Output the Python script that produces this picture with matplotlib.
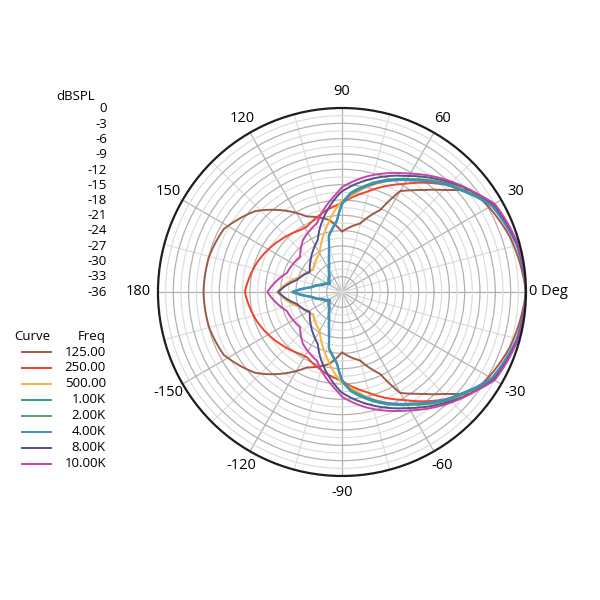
import numpy as np
import matplotlib.pyplot as plt
from matplotlib.lines import Line2D

plt.rcParams['font.family'] = ['Open Sans', 'DejaVu Sans']

# polar response, half plane (deg, dBSPL) -- mirrored for the negative side
ang_125 = [0, 18, 30, 38.6, 42, 45, 50.9, 55, 60, 65, 75, 90, 100, 115, 130, 137, 152, 165, 180]
db_125 = [0, -1.4, -2.8, -4.0, -6.2, -7.8, -10.3, -11.7, -13.2, -18.3, -22.1, -24.2, -21.7, -19.7, -15.0, -12.8, -9.8, -9.1, -8.9]

ang_250 = [0, 15, 30, 45, 60, 76, 90, 106, 118, 124, 140, 161, 180]
db_250 = [0, -0.6, -2.2, -6.5, -11.6, -15.8, -18.6, -20.3, -21.5, -21.4, -20.2, -18.4, -17.0]

ang_500 = [0, 15, 30, 40, 46, 58, 77, 85, 90, 103, 111, 120, 142.5, 160, 180]
db_500 = [0, -0.5, -2.0, -5.0, -6.4, -10.0, -15.0, -17.3, -18.2, -22.9, -25.1, -27.3, -28.9, -27.3, -23.3]

ang_1k = [0, 15, 30, 40, 46, 58, 71, 77, 85, 90, 94, 98, 103, 105.5, 109.4, 115.7, 127, 146, 160, 171.5, 180]
db_1k = [0, -0.5, -2.0, -5.0, -6.5, -10.0, -13.0, -14.5, -16.5, -18.6, -21.9, -23.2, -24.6, -26.5, -28.3, -30.1, -31.8, -32.8, -31.7, -29.7, -26.2]

ang_2k = ang_1k
db_2k = [0, -0.5, -2.1, -5.2, -6.7, -10.2, -13.2, -14.7, -16.7, -18.8, -22.0, -23.3, -24.7, -26.6, -28.4, -30.2, -31.9, -32.9, -31.8, -29.8, -26.3]

ang_4k = ang_1k
db_4k = [0, -0.6, -2.2, -5.3, -6.8, -10.3, -13.3, -14.8, -16.8, -18.9, -22.1, -23.4, -24.8, -26.8, -28.6, -30.4, -32.1, -33.2, -32.1, -30.0, -26.6]

ang_8k = [0, 15, 30, 45, 60, 77.6, 90, 93, 105, 115, 124, 135, 148, 165, 180]
db_8k = [0, -0.4, -1.7, -5.8, -9.8, -13.6, -16.3, -17.3, -21.4, -24.8, -26.0, -27.3, -28.6, -26.9, -23.5]

ang_10k = [0, 15, 30, 36, 47, 61, 78, 90, 93, 110, 127, 140, 161, 180]
db_10k = [0, -0.3, -1.5, -3.3, -6.0, -9.5, -12.9, -15.5, -16.7, -21.7, -23.3, -25.3, -24.6, -21.4]

freq_labels = ['125.00', '250.00', '500.00', '1.00K', '2.00K', '4.00K', '8.00K', '10.00K']
colors = ['#9e5b45', '#f0432a', '#f7b43a', '#22a67a', '#5e9672', '#3a8fcc', '#55508e', '#c844a8']
curves = [(ang_125, db_125), (ang_250, db_250), (ang_500, db_500), (ang_1k, db_1k),
          (ang_2k, db_2k), (ang_4k, db_4k), (ang_8k, db_8k), (ang_10k, db_10k)]

angle_ticks = [0, 30, 60, 90, 120, 150, 180, 210, 240, 270, 300, 330]
angle_labels = ['0 Deg', '30', '60', '90', '120', '150', '180', '-150', '-120', '-90', '-60', '-30']
db_ticks = [0, -3, -6, -9, -12, -15, -18, -21, -24, -27, -30, -33, -36]

fig = plt.figure(figsize=(6, 6), dpi=100)
ax = fig.add_axes([0.2633, 0.2067, 0.6133, 0.6133], projection='polar')
ax.set_rlim(-36, 0)

ax.set_xticks(np.deg2rad(angle_ticks))
ax.set_xticks(np.deg2rad(np.arange(15, 360, 30)), minor=True)
ax.set_yticks(db_ticks[1:-1])
ax.set_yticks(np.arange(-31.5, 0, 3), minor=True)
ax.set_xticklabels([])
ax.set_yticklabels([])
ax.tick_params(which='both', length=0)
ax.grid(which='major', color='#b2b2b2', lw=0.9)
ax.grid(which='minor', color='#dadada', lw=0.8)
ax.spines['polar'].set_color('#1e1e1e')
ax.spines['polar'].set_linewidth(1.6)

for (ang, db), c in zip(curves, colors):
    a = np.array(ang, dtype=float)
    d = np.array(db, dtype=float)
    theta = np.deg2rad(np.concatenate([a, 360 - a[::-1][1:]]))
    r = np.concatenate([d, d[::-1][1:]])
    ln, = ax.plot(theta, r, color=c, lw=1.4)
    # let the polar transform draw each segment as a spiral arc, not a chord
    ln.get_path()._interpolation_steps = 40

# angle labels outside the rim
for t, lab in zip(angle_ticks, angle_labels):
    th = np.deg2rad(t)
    if t == 0:
        ax.text(th, 0.6, lab, ha='left', va='center', fontsize=10.5, clip_on=False)
    elif t == 180:
        ax.text(th, 1.4, lab, ha='right', va='center', fontsize=10.5, clip_on=False)
    else:
        ax.text(th, 3.2, lab, ha='center', va='center', fontsize=10.5, clip_on=False)

# dB scale column on the left
fig.text(95 / 600, 1 - 97 / 600, 'dBSPL', ha='right', va='center', fontsize=9.5)
for i, v in enumerate(db_ticks):
    y = 109 + i * 15.25
    fig.text(107 / 600, 1 - y / 600, str(v), ha='right', va='center', fontsize=9.5)

# legend
fig.text(14 / 600, 1 - 336 / 600, 'Curve', ha='left', va='center', fontsize=9.5)
fig.text(106 / 600, 1 - 336 / 600, 'Freq', ha='right', va='center', fontsize=9.5)
for i, (lab, c) in enumerate(zip(freq_labels, colors)):
    y = 1 - (352 + i * 15.94) / 600
    fig.add_artist(Line2D([22 / 600, 51 / 600], [y, y], transform=fig.transFigure, color=c, lw=1.4))
    fig.text(106 / 600, y, lab, ha='right', va='center', fontsize=9.5)

fig.savefig('out.png', dpi=100, facecolor='white')
